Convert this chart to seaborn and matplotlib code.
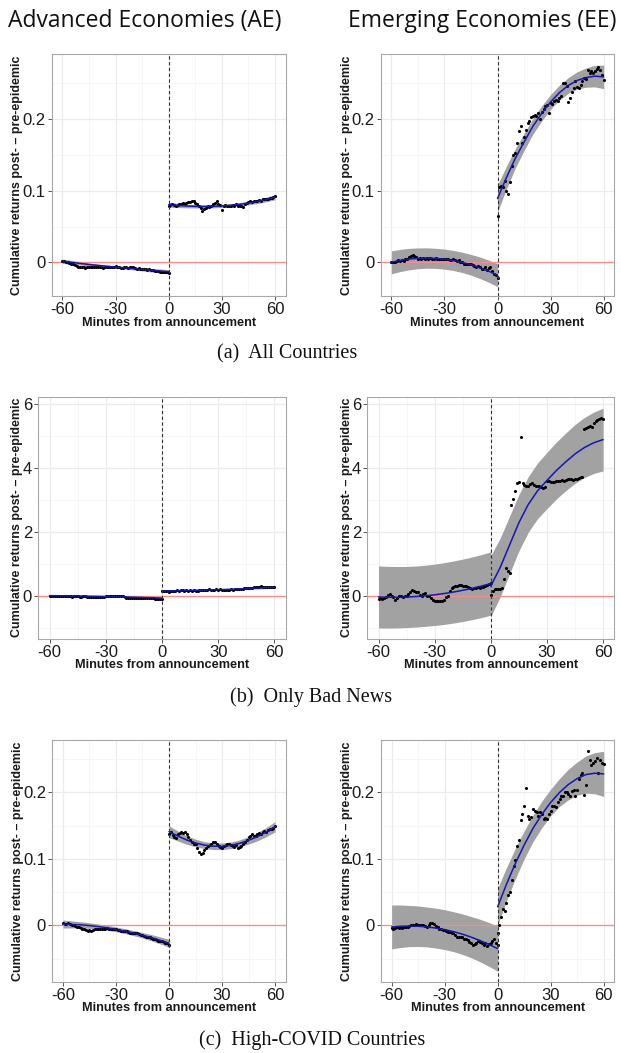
import matplotlib
matplotlib.use("Agg")
import matplotlib.pyplot as plt
import numpy as np
import pandas as pd
import seaborn as sns
from matplotlib.ticker import FixedLocator, FuncFormatter

sns.set_theme(style="white")
plt.rcParams["font.family"] = ["Liberation Sans", "DejaVu Sans"]
plt.rcParams["axes.unicode_minus"] = False

# ---------------------------------------------------------------- minutes
minutes_pre = list(range(-60, 1))
minutes_post = list(range(0, 61))
fit_minutes_pre = list(range(-60, 1, 5))
fit_minutes_post = list(range(0, 61, 5))

# ---------------------------------------------------------------- (a) all countries, AE
ae_all_pre = [0.002, 0.002, 0.001, 0.000, -0.001, -0.002, -0.003, -0.004, -0.005, -0.006,
              -0.007, -0.006, -0.007, -0.008, -0.007, -0.006, -0.007, -0.006, -0.006, -0.007,
              -0.006, -0.007, -0.007, -0.008, -0.007, -0.006, -0.006, -0.007, -0.006, -0.006,
              -0.005, -0.006, -0.007, -0.008, -0.008, -0.007, -0.007, -0.008, -0.007, -0.006,
              -0.007, -0.008, -0.009, -0.008, -0.009, -0.010, -0.009, -0.010, -0.011, -0.010,
              -0.011, -0.011, -0.012, -0.012, -0.012, -0.013, -0.013, -0.013, -0.014, -0.013,
              -0.015]
ae_all_post = [0.078, 0.080, 0.081, 0.080, 0.079, 0.080, 0.081, 0.082, 0.083, 0.082,
               0.083, 0.084, 0.084, 0.085, 0.086, 0.083, 0.081, 0.079, 0.076, 0.071,
               0.075, 0.076, 0.078, 0.077, 0.079, 0.081, 0.083, 0.085, 0.082, 0.080,
               0.073, 0.078, 0.080, 0.079, 0.078, 0.078, 0.080, 0.079, 0.081, 0.079,
               0.078, 0.079, 0.077, 0.081, 0.083, 0.084, 0.085, 0.084, 0.086, 0.085,
               0.086, 0.087, 0.086, 0.088, 0.088, 0.089, 0.089, 0.090, 0.090, 0.091,
               0.092]
ae_all_fit_pre = [0.0015, 0.0000, -0.0015, -0.0030, -0.0043, -0.0055, -0.0066,
                  -0.0077, -0.0088, -0.0099, -0.0110, -0.0120, -0.0132]
ae_all_se_pre = [0.0030, 0.0027, 0.0024, 0.0021, 0.0019, 0.0018, 0.0018,
                 0.0018, 0.0019, 0.0021, 0.0024, 0.0027, 0.0030]
ae_all_fit_post = [0.0805, 0.0795, 0.0787, 0.0782, 0.0780, 0.0782, 0.0788,
                   0.0797, 0.0810, 0.0828, 0.0850, 0.0877, 0.0910]
ae_all_se_post = [0.0035, 0.0030, 0.0026, 0.0023, 0.0022, 0.0021, 0.0021,
                  0.0022, 0.0023, 0.0025, 0.0028, 0.0032, 0.0036]

# ---------------------------------------------------------------- (a) all countries, EE
ee_all_pre = [0.000, 0.001, 0.001, 0.002, 0.003, 0.002, 0.003, 0.002, 0.004, 0.005,
              0.008, 0.009, 0.010, 0.009, 0.007, 0.005, 0.006, 0.005, 0.006, 0.005,
              0.006, 0.005, 0.006, 0.005, 0.005, 0.006, 0.005, 0.004, 0.005, 0.005,
              0.005, 0.004, 0.004, 0.003, 0.003, 0.004, 0.003, 0.002, 0.003, 0.001,
              0.000, -0.002, -0.003, -0.003, -0.002, -0.002, -0.004, -0.005, -0.006, -0.005,
              -0.007, -0.009, -0.010, -0.007, -0.011, -0.008, -0.006, -0.012, -0.016, -0.018,
              -0.022]
ee_all_post = [0.064, 0.105, 0.107, 0.105, 0.113, 0.100, 0.096, 0.112, 0.135, 0.150,
               0.152, 0.166, 0.183, 0.191, 0.167, 0.175, 0.185, 0.194, 0.198, 0.203,
               0.204, 0.206, 0.205, 0.209, 0.200, 0.210, 0.214, 0.218, 0.220, 0.208,
               0.222, 0.221, 0.225, 0.227, 0.225, 0.229, 0.232, 0.251, 0.250, 0.246,
               0.224, 0.230, 0.238, 0.243, 0.253, 0.245, 0.243, 0.248, 0.253, 0.258,
               0.256, 0.268, 0.265, 0.267, 0.265, 0.267, 0.270, 0.273, 0.268, 0.261,
               0.255]
ee_all_fit_pre = [0.0000, 0.0026, 0.0045, 0.0056, 0.0060, 0.0056, 0.0045,
                  0.0026, 0.0000, -0.0034, -0.0075, -0.0124, -0.0180]
ee_all_se_pre = [0.0160, 0.0155, 0.0150, 0.0145, 0.0142, 0.0140, 0.0140,
                 0.0140, 0.0142, 0.0145, 0.0150, 0.0155, 0.0160]
ee_all_fit_post = [0.089, 0.118, 0.145, 0.168, 0.190, 0.208, 0.224,
                   0.237, 0.247, 0.254, 0.258, 0.260, 0.259]
ee_all_se_post = [0.0190, 0.0160, 0.0135, 0.0120, 0.0110, 0.0105, 0.0103,
                  0.0105, 0.0110, 0.0120, 0.0135, 0.0150, 0.0165]

# ---------------------------------------------------------------- (b) only bad news, AE
ae_bad_pre = [0.02, 0.02, 0.01, 0.02, 0.01, 0.00, 0.01, 0.02, 0.01, 0.00,
              0.01, 0.00, -0.01, 0.00, 0.01, 0.00, -0.01, -0.01, 0.00, 0.00,
              -0.01, -0.01, -0.02, -0.01, -0.02, -0.03, -0.02, -0.03, -0.02, -0.01,
              0.00, 0.01, 0.00, 0.00, 0.01, 0.01, 0.01, 0.00, 0.02, 0.01,
              -0.03, -0.05, -0.05, -0.04, -0.05, -0.05, -0.04, -0.05, -0.05, -0.04,
              -0.05, -0.05, -0.06, -0.06, -0.06, -0.06, -0.07, -0.07, -0.07, -0.08,
              -0.09]
ae_bad_post = [0.17, 0.16, 0.17, 0.16, 0.15, 0.16, 0.17, 0.18, 0.19, 0.18,
               0.19, 0.19, 0.18, 0.19, 0.18, 0.19, 0.18, 0.19, 0.17, 0.18,
               0.19, 0.20, 0.19, 0.20, 0.21, 0.22, 0.21, 0.20, 0.21, 0.22,
               0.21, 0.22, 0.21, 0.20, 0.21, 0.20, 0.21, 0.22, 0.21, 0.22,
               0.22, 0.23, 0.23, 0.24, 0.25, 0.26, 0.26, 0.27, 0.27, 0.28,
               0.28, 0.29, 0.30, 0.31, 0.30, 0.29, 0.29, 0.28, 0.29, 0.28,
               0.28]
ae_bad_fit_pre = [0.020, 0.018, 0.015, 0.011, 0.006, 0.000, -0.006,
                  -0.013, -0.020, -0.028, -0.037, -0.046, -0.056]
ae_bad_se_pre = [0.030, 0.027, 0.024, 0.022, 0.020, 0.019, 0.019,
                 0.019, 0.020, 0.022, 0.024, 0.027, 0.030]
ae_bad_fit_post = [0.165, 0.170, 0.176, 0.182, 0.190, 0.198, 0.207,
                   0.217, 0.228, 0.240, 0.253, 0.267, 0.281]
ae_bad_se_post = [0.030, 0.027, 0.024, 0.022, 0.020, 0.019, 0.019,
                  0.019, 0.020, 0.022, 0.024, 0.027, 0.030]

# ---------------------------------------------------------------- (b) only bad news, EE
ee_bad_pre = [-0.08, -0.06, -0.09, -0.05, -0.02, 0.05, 0.08, 0.02, -0.02, -0.10,
              -0.05, 0.00, 0.00, -0.02, 0.02, 0.00, 0.08, 0.15, 0.20, 0.16,
              0.12, 0.15, 0.05, 0.02, 0.08, 0.10, 0.02, 0.00, -0.05, -0.10,
              -0.15, -0.14, -0.15, -0.14, -0.15, -0.10, -0.02, 0.02, 0.18, 0.25,
              0.28, 0.32, 0.33, 0.34, 0.34, 0.33, 0.33, 0.33, 0.30, 0.25,
              0.24, 0.26, 0.27, 0.28, 0.27, 0.28, 0.30, 0.32, 0.35, 0.38,
              0.42]
ee_bad_post = [0.05, 0.18, 0.22, 0.24, 0.24, 0.24, 0.25, 0.55, 0.88, 0.80,
               0.72, 2.86, 3.05, 3.30, 3.55, 3.56, 4.97, 3.55, 3.48, 3.46,
               3.44, 3.50, 3.55, 3.48, 3.44, 3.44, 3.45, 3.42, 3.40, 3.42,
               3.62, 3.60, 3.58, 3.56, 3.58, 3.60, 3.62, 3.61, 3.63, 3.62,
               3.64, 3.66, 3.68, 3.66, 3.65, 3.67, 3.68, 3.70, 3.72, 3.73,
               5.24, 5.26, 5.30, 5.31, 5.30, 5.42, 5.48, 5.50, 5.55, 5.58,
               5.55]
ee_bad_fit_pre = [-0.020, -0.029, -0.029, -0.022, -0.007, 0.016, 0.047,
                  0.086, 0.133, 0.188, 0.250, 0.320, 0.400]
ee_bad_se_pre = [0.970, 0.965, 0.960, 0.955, 0.955, 0.955, 0.960,
                 0.965, 0.970, 0.975, 0.980, 0.985, 0.990]
ee_bad_fit_post = [0.32, 0.90, 1.60, 2.30, 2.87, 3.30, 3.62,
                   3.93, 4.20, 4.45, 4.65, 4.80, 4.90]
ee_bad_se_post = [0.95, 0.92, 0.90, 0.88, 0.87, 0.87, 0.88,
                  0.89, 0.90, 0.92, 0.94, 0.96, 0.98]

# ---------------------------------------------------------------- (c) high-COVID countries, AE
ae_covid_pre = [0.003, 0.002, 0.002, 0.003, 0.002, 0.001, 0.000, -0.001, -0.002, -0.002,
                -0.004, -0.005, -0.006, -0.007, -0.008, -0.007, -0.008, -0.007, -0.006, -0.006,
                -0.005, -0.005, -0.006, -0.005, -0.005, -0.004, -0.005, -0.006, -0.006, -0.005,
                -0.005, -0.007, -0.007, -0.008, -0.009, -0.008, -0.009, -0.010, -0.011, -0.011,
                -0.012, -0.011, -0.012, -0.013, -0.014, -0.015, -0.016, -0.017, -0.017, -0.018,
                -0.019, -0.020, -0.021, -0.022, -0.023, -0.024, -0.024, -0.025, -0.026, -0.027,
                -0.030]
ae_covid_post = [0.137, 0.140, 0.136, 0.133, 0.132, 0.138, 0.139, 0.141, 0.139, 0.140,
                 0.137, 0.133, 0.129, 0.126, 0.123, 0.122, 0.116, 0.111, 0.108, 0.109,
                 0.114, 0.116, 0.120, 0.121, 0.123, 0.125, 0.125, 0.123, 0.119, 0.118,
                 0.117, 0.119, 0.121, 0.123, 0.122, 0.121, 0.119, 0.118, 0.121, 0.117,
                 0.118, 0.120, 0.123, 0.125, 0.129, 0.133, 0.134, 0.137, 0.135, 0.134,
                 0.137, 0.139, 0.138, 0.140, 0.142, 0.140, 0.143, 0.145, 0.145, 0.147,
                 0.149]
ae_covid_fit_pre = [0.0020, 0.0014, 0.0008, -0.0003, -0.0018, -0.0037, -0.0060,
                    -0.0087, -0.0116, -0.0149, -0.0185, -0.0226, -0.0270]
ae_covid_se_pre = [0.0060, 0.0053, 0.0047, 0.0042, 0.0039, 0.0037, 0.0036,
                   0.0037, 0.0039, 0.0042, 0.0047, 0.0053, 0.0060]
ae_covid_fit_post = [0.1410, 0.1345, 0.1285, 0.1240, 0.1208, 0.1192, 0.1190,
                     0.1205, 0.1235, 0.1280, 0.1335, 0.1405, 0.1485]
ae_covid_se_post = [0.0090, 0.0075, 0.0065, 0.0057, 0.0052, 0.0050, 0.0050,
                    0.0050, 0.0052, 0.0057, 0.0063, 0.0070, 0.0078]

# ---------------------------------------------------------------- (c) high-COVID countries, EE
ee_covid_pre = [-0.004, -0.005, -0.004, -0.003, -0.004, -0.003, -0.004, -0.003, -0.002, -0.002,
                -0.001, 0.000, 0.001, 0.001, 0.002, 0.001, 0.000, 0.001, 0.001, -0.001,
                -0.002, 0.000, 0.003, 0.003, 0.002, -0.001, -0.003, -0.005, -0.006, -0.007,
                -0.007, -0.008, -0.010, -0.010, -0.012, -0.011, -0.015, -0.017, -0.017, -0.017,
                -0.018, -0.020, -0.020, -0.022, -0.025, -0.027, -0.029, -0.028, -0.026, -0.024,
                -0.025, -0.027, -0.029, -0.027, -0.031, -0.028, -0.026, -0.024, -0.021, -0.027,
                -0.029]
ee_covid_post = [-0.012, 0.000, 0.012, 0.024, 0.022, 0.034, 0.045, 0.050, 0.068, 0.090,
                 0.098, 0.120, 0.128, 0.158, 0.168, 0.180, 0.207, 0.165, 0.160, 0.163,
                 0.175, 0.172, 0.170, 0.165, 0.170, 0.168, 0.160, 0.162, 0.160, 0.168,
                 0.172, 0.180, 0.180, 0.178, 0.185, 0.190, 0.195, 0.195, 0.200, 0.200,
                 0.198, 0.195, 0.202, 0.204, 0.195, 0.204, 0.220, 0.226, 0.229, 0.196,
                 0.212, 0.263, 0.249, 0.242, 0.244, 0.248, 0.252, 0.229, 0.249, 0.245,
                 0.243]
ee_covid_fit_pre = [-0.0024, -0.0013, -0.0010, -0.0013, -0.0024, -0.0041, -0.0064,
                    -0.0095, -0.0132, -0.0177, -0.0228, -0.0286, -0.0350]
ee_covid_se_pre = [0.0330, 0.0320, 0.0310, 0.0305, 0.0300, 0.0300, 0.0300,
                   0.0300, 0.0305, 0.0310, 0.0320, 0.0330, 0.0340]
ee_covid_fit_post = [0.028, 0.062, 0.093, 0.121, 0.146, 0.167, 0.185,
                     0.200, 0.212, 0.221, 0.227, 0.229, 0.228]
ee_covid_se_post = [0.028, 0.025, 0.023, 0.021, 0.020, 0.020, 0.020,
                    0.021, 0.023, 0.025, 0.028, 0.031, 0.034]

# ---------------------------------------------------------------- text
column_titles = ["Advanced Economies (AE)", "Emerging Economies (EE)"]
row_captions = ["(a)  All Countries", "(b)  Only Bad News", "(c)  High-COVID Countries"]
x_label = "Minutes from announcement"
y_label = "Cumulative returns post- \u2013 pre-epidemic"
x_ticks = [-60, -30, 0, 30, 60]
y_ticks_rows = [[0, 0.1, 0.2], [0, 2, 4, 6], [0, 0.1, 0.2]]
y_minor_rows = [[-0.05, 0.05, 0.15, 0.25], [-1, 1, 3, 5], [-0.05, 0.05, 0.15, 0.25]]
y_limits_rows = [(-0.0466, 0.2905), (-1.325, 6.24), (-0.0848, 0.279)]

# ---------------------------------------------------------------- layout (pixels)
W, H = 621, 1053
axes_boxes = {
    (0, 0): (51.7, 285.7, 54.3, 295.7), (0, 1): (380.7, 614.3, 54.3, 295.7),
    (1, 0): (38.3, 285.7, 396.7, 638.7), (1, 1): (367.3, 614.3, 396.7, 638.7),
    (2, 0): (52.3, 285.7, 740.0, 981.7), (2, 1): (381.0, 614.3, 740.0, 981.7),
}
ylabel_x = {0: 17.5, 1: 347.0}
xlabel_y = {0: 323.0, 1: 665.0, 2: 1008.0}
caption_pos = [(287.0, 354.0), (311.0, 697.0), (312.0, 1040.0)]
title_x = [145.0, 482.0]

panels = {
    (0, 0): (ae_all_pre, ae_all_post, ae_all_fit_pre, ae_all_se_pre, ae_all_fit_post, ae_all_se_post),
    (0, 1): (ee_all_pre, ee_all_post, ee_all_fit_pre, ee_all_se_pre, ee_all_fit_post, ee_all_se_post),
    (1, 0): (ae_bad_pre, ae_bad_post, ae_bad_fit_pre, ae_bad_se_pre, ae_bad_fit_post, ae_bad_se_post),
    (1, 1): (ee_bad_pre, ee_bad_post, ee_bad_fit_pre, ee_bad_se_pre, ee_bad_fit_post, ee_bad_se_post),
    (2, 0): (ae_covid_pre, ae_covid_post, ae_covid_fit_pre, ae_covid_se_pre, ae_covid_fit_post, ae_covid_se_post),
    (2, 1): (ee_covid_pre, ee_covid_post, ee_covid_fit_pre, ee_covid_se_pre, ee_covid_fit_post, ee_covid_se_post),
}

BAND = "#a2a2a2"
LINE = "#1616b4"
ZERO = "#ff8a8a"

fig = plt.figure(figsize=(W / 100, H / 100), dpi=100)
fig.patch.set_facecolor("white")


def draw_segment(ax, minutes, points, fit_minutes, fit, se):
    fit_df = pd.DataFrame({"minute": fit_minutes, "fit": fit, "se": se})
    ax.fill_between(fit_df["minute"], fit_df["fit"] - fit_df["se"], fit_df["fit"] + fit_df["se"],
                    color=BAND, lw=0, zorder=1)
    pts = pd.DataFrame({"minute": minutes, "value": points})
    sns.scatterplot(data=pts, x="minute", y="value", ax=ax, color="black", s=5,
                    linewidth=0, zorder=4, legend=False)
    sns.lineplot(data=fit_df, x="minute", y="fit", ax=ax, color=LINE, lw=1.1,
                 zorder=5, legend=False)


for (r, c), (pre, post, fpre, spre, fpost, spost) in panels.items():
    l, rr, t, b = axes_boxes[(r, c)]
    ax = fig.add_axes([l / W, 1 - b / H, (rr - l) / W, (b - t) / H])
    ax.set_facecolor("white")
    ax.axhline(0, color=ZERO, lw=0.9, zorder=3)
    draw_segment(ax, minutes_pre, pre, fit_minutes_pre, fpre, spre)
    draw_segment(ax, minutes_post, post, fit_minutes_post, fpost, spost)
    ax.axvline(0, color="#333333", lw=0.8, ls=(0, (3, 2.2)), zorder=6)

    ax.set_xlim(-66, 66)
    ax.set_ylim(*y_limits_rows[r])
    ax.xaxis.set_major_locator(FixedLocator(x_ticks))
    ax.xaxis.set_minor_locator(FixedLocator([-45, -15, 15, 45]))
    ax.yaxis.set_major_locator(FixedLocator(y_ticks_rows[r]))
    ax.yaxis.set_minor_locator(FixedLocator(y_minor_rows[r]))
    fmt = FuncFormatter(lambda v, p: f"{v:g}")
    ax.xaxis.set_major_formatter(fmt)
    ax.yaxis.set_major_formatter(fmt)
    ax.grid(which="major", color="#ebebeb", lw=0.9)
    ax.grid(which="minor", color="#f3f3f3", lw=0.5)
    ax.set_axisbelow(True)
    ax.tick_params(which="major", length=3, width=0.7, color="#555555",
                   labelsize=12, labelcolor="#1a1a1a", pad=1.5, bottom=True, left=True)
    ax.tick_params(which="minor", length=0)
    for sp in ax.spines.values():
        sp.set_color("#a8a8a8")
        sp.set_linewidth(0.8)

    ax.set_xlabel(x_label, fontsize=9.2, fontweight="bold", color="#1a1a1a")
    ax.set_ylabel(y_label, fontsize=9.0, fontweight="bold", color="#1a1a1a")
    ax.xaxis.label.set_va("center")
    ax.yaxis.label.set_va("center")
    ax.xaxis.set_label_coords(0.5, (b - xlabel_y[r]) / (b - t))
    ax.yaxis.set_label_coords((ylabel_x[c] - l) / (rr - l), 0.5)

for c, title in enumerate(column_titles):
    fig.text(title_x[c] / W, 1 - 21 / H, title, ha="center", va="center",
             fontsize=16.5, family=["Open Sans", "DejaVu Sans"], color="#111111")

for r, cap in enumerate(row_captions):
    cx, cy = caption_pos[r]
    fig.text(cx / W, 1 - cy / H, cap, ha="center", va="center",
             fontsize=14.5, family=["Liberation Serif", "DejaVu Serif"], color="#111111")

fig.savefig("out.png", dpi=100, facecolor="white")
